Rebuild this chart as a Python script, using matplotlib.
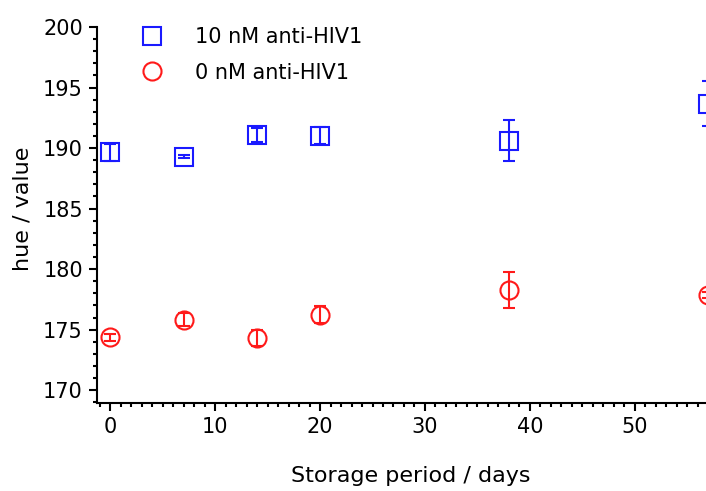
import numpy as np
import matplotlib
matplotlib.use("Agg")
import matplotlib.pyplot as plt
from matplotlib.lines import Line2D
from matplotlib.ticker import MultipleLocator

plt.rcParams['font.family'] = ['DejaVu Sans']

# data
days = [0, 7, 14, 20, 38, 57]
hue_10nM = [189.65, 189.28, 191.08, 191.02, 190.6, 193.65]
err_10nM = [0.7, 0.11, 0.58, 0.69, 1.7, 1.86]
hue_0nM = [174.37, 175.83, 174.31, 176.25, 178.25, 177.9]
err_0nM = [0.3, 0.55, 0.69, 0.72, 1.5, 0.25]

fig = plt.figure(figsize=(7.06, 4.91), dpi=100)
ax = fig.add_axes([0.137, 0.179, 0.863, 0.766])

ax.errorbar(days, hue_10nM, yerr=err_10nM, fmt='s', ms=13, mfc='none',
            mec='#1a1aff', mew=1.5, ecolor='#1a1aff', elinewidth=1.5,
            capsize=4, capthick=1.5)
ax.errorbar(days, hue_0nM, yerr=err_0nM, fmt='o', ms=13, mfc='none',
            mec='#ff1a1a', mew=1.5, ecolor='#ff1a1a', elinewidth=1.5,
            capsize=4, capthick=1.5)

ax.set_xlim(-1.3, 56.8)
ax.set_ylim(168.93, 200)
ax.xaxis.set_major_locator(MultipleLocator(10))
ax.xaxis.set_minor_locator(MultipleLocator(1))
ax.yaxis.set_major_locator(MultipleLocator(5))
ax.yaxis.set_minor_locator(MultipleLocator(1))
ax.tick_params(which='major', length=6, width=1.5, labelsize=15, direction='out', pad=4)
ax.tick_params(which='minor', length=3, width=1.5, direction='out')

for s in ['top', 'right']:
    ax.spines[s].set_visible(False)
for s in ['left', 'bottom']:
    ax.spines[s].set_linewidth(1.5)

ax.set_xlabel('Storage period / days', fontsize=16)
ax.xaxis.set_label_coords(0.515, -0.168)
ax.set_ylabel('hue / value', fontsize=16)
ax.yaxis.set_label_coords(-0.105, 0.516)

handles = [
    Line2D([], [], ls='none', marker='s', ms=13, mfc='none', mec='#1a1aff', mew=1.5),
    Line2D([], [], ls='none', marker='o', ms=13, mfc='none', mec='#ff1a1a', mew=1.5),
]
ax.legend(handles, ['10 nM anti-HIV1', '0 nM anti-HIV1'], loc='upper left',
          bbox_to_anchor=(0.025, 1.05), frameon=False, fontsize=15,
          handletextpad=1.1, labelspacing=0.75)

fig.savefig('out.png', dpi=100)
